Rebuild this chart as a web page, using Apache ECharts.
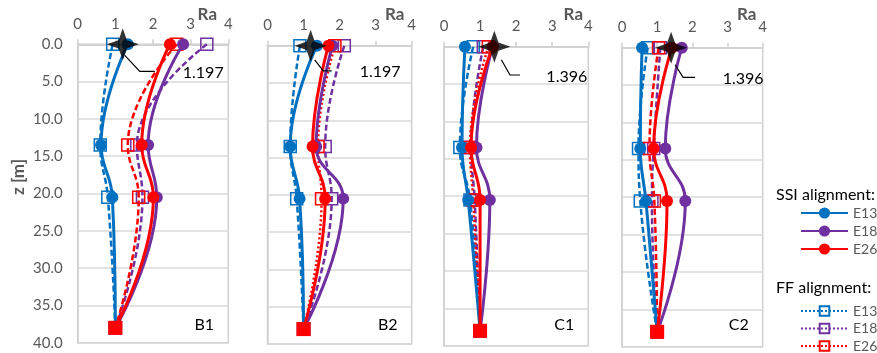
<!DOCTYPE html>
<html><head><meta charset="utf-8">
<script src="https://cdn.jsdelivr.net/npm/echarts@6/dist/echarts.min.js"></script>
<style>html,body{margin:0;padding:0;background:#fff}#c{width:877px;height:353px}</style>
</head><body><div id="c"></div>
<script>
// ---- data ----
const depths = [0, 13.5, 20.5, 38];
const panels = ['B1', 'B2', 'C1', 'C2'];
const xTicks = [0, 1, 2, 3, 4];
const yTicks = [0, 5, 10, 15, 20, 25, 30, 35, 40];
// values per panel (B1, B2, C1, C2), at the depths above
const ssiE13 = [[1.33, 0.62, 0.92, 1.0], [1.37, 0.63, 0.89, 1.0], [0.58, 0.50, 0.67, 1.0], [0.57, 0.52, 0.68, 1.0]];
const ssiE18 = [[2.80, 1.87, 2.10, 1.0], [1.80, 1.35, 2.10, 1.0], [1.35, 0.90, 1.27, 1.0], [1.70, 1.23, 1.80, 1.0]];
const ssiE26 = [[2.45, 1.70, 2.01, 1.0], [1.69, 1.25, 1.60, 1.0], [1.35, 0.75, 1.00, 1.0], [1.42, 0.90, 1.28, 1.0]];
const ffE13 = [[0.93, 0.60, 0.80, 1.0], [0.90, 0.63, 0.81, 1.0], [0.81, 0.44, 0.72, 1.0], [0.73, 0.47, 0.52, 1.0]];
const ffE18 = [[3.43, 1.57, 1.72, 1.0], [2.13, 1.60, 1.78, 1.0], [1.09, 0.75, 0.85, 1.0], [1.09, 0.90, 0.85, 1.0]];
const ffE26 = [[2.63, 1.33, 1.62, 1.0], [1.87, 1.40, 1.50, 1.0], [1.23, 0.72, 0.81, 1.0], [1.04, 0.78, 0.92, 1.0]];
const peakRa = [1.197, 1.197, 1.396, 1.396];
const peakDepth = [0, 0, 0, 0];
const peakLabels = ['1.197', '1.197', '1.396', '1.396'];

// ---- layout / style ----
const FONT = 'Lato, "Open Sans", sans-serif';
const GRAY = '#595959';
const gridBox = [
  {left: 77.7, top: 44.3, width: 150.6, height: 298.4},
  {left: 267.5, top: 45.8, width: 144.2, height: 298.2},
  {left: 444, top: 46.7, width: 144.3, height: 299},
  {left: 622, top: 47.7, width: 140.7, height: 299}
];
const ffRedDash = [[6, 3], [2, 2.5], [2, 2.5], [6, 3]];
const leader = [
  {pts: [[2, 11], [17, 27], [32, 27]], tx: 60, ty: 28.5},
  {pts: [[4, 14], [12.6, 25], [21, 25]], tx: 49, ty: 26},
  {pts: [[7, 13], [15.6, 28.3], [25.6, 28.3]], tx: 52, ty: 30},
  {pts: [[4, 17], [12, 29.6], [24, 29.6]], tx: 51.6, ty: 31}
];
const raOff = [-21, -17, -15, -16];
const BLUE = '#0070C0', PURPLE = '#7030A0', RED = '#FF0000';

const defs = [
  {name: 'FF E13', vals: ffE13, color: BLUE, ff: true},
  {name: 'FF E18', vals: ffE18, color: PURPLE, ff: true},
  {name: 'FF E26', vals: ffE26, color: RED, ff: true},
  {name: 'SSI E13', vals: ssiE13, color: BLUE, ff: false},
  {name: 'SSI E18', vals: ssiE18, color: PURPLE, ff: false},
  {name: 'SSI E26', vals: ssiE26, color: RED, ff: false}
];

const grids = [], xAxes = [], yAxes = [], series = [];
panels.forEach((pn, p) => {
  const g = gridBox[p];
  grids.push({left: g.left, top: g.top, width: g.width, height: g.height, show: true,
    borderColor: '#d0d0d0', borderWidth: 1.5, backgroundColor: 'transparent'});
  xAxes.push({gridIndex: p, type: 'value', position: 'top', min: xTicks[0], max: xTicks[xTicks.length - 1], interval: 1,
    axisLine: {show: true, onZero: false, lineStyle: {color: '#d0d0d0', width: 1.5}},
    axisTick: {show: true, length: 5, lineStyle: {color: '#d0d0d0', width: 1.5}},
    axisLabel: {color: GRAY, fontSize: 15, fontFamily: FONT, margin: 13},
    splitLine: {show: false}});
  yAxes.push({gridIndex: p, type: 'value', inverse: true, min: yTicks[0], max: yTicks[yTicks.length - 1], interval: 5,
    axisLine: {show: true, onZero: false, lineStyle: {color: '#d0d0d0', width: 1.5}},
    axisTick: {show: false},
    axisLabel: {show: p === 0, color: GRAY, fontSize: 15, fontFamily: FONT, margin: 15,
      formatter: v => v.toFixed(1)},
    splitLine: {show: true, lineStyle: {color: '#d9d9d9', width: 1.5}}});
  defs.forEach(d => {
    const dash = d.ff ? (d.color === RED ? ffRedDash[p] : [6, 3]) : 'solid';
    const isLastRed = !d.ff && d.color === RED;
    series.push({
      name: d.name, type: 'line', xAxisIndex: p, yAxisIndex: p,
      data: depths.map((z, k) => {
        const item = {value: [d.vals[p][k], z]};
        if (isLastRed && k === depths.length - 1) { item.symbol = 'rect'; item.symbolSize = 14; }
        return item;
      }),
      smooth: 0.45, symbol: d.ff ? 'rect' : 'circle', symbolSize: 12,
      lineStyle: {color: d.color, width: d.ff ? 2.5 : 3, type: dash},
      itemStyle: d.ff ? {color: 'rgba(255,255,255,0)', borderColor: d.color, borderWidth: 1.5}
                     : {color: d.color, borderWidth: 0},
      emphasis: {disabled: true}, z: d.ff ? 3 : 4
    });
  });
  series.push({
    name: 'peak', type: 'scatter', xAxisIndex: p, yAxisIndex: p,
    data: [[peakRa[p], peakDepth[p]]],
    symbol: 'path://M0,-10 L2.6,-2.6 L10,0 L2.6,2.6 L0,10 L-2.6,2.6 L-10,0 L-2.6,-2.6 Z',
    symbolSize: [32, 32], itemStyle: {color: '#000'}, z: 6, emphasis: {disabled: true}
  });
});

const chart = echarts.init(document.getElementById('c'), null, {renderer: 'canvas'});
chart.setOption({
  animation: false,
  grid: grids, xAxis: xAxes, yAxis: yAxes, series: series,
  legend: [
    {orient: 'vertical', left: 800, top: 206, height: 80, padding: 0, itemWidth: 47, itemHeight: 14, itemGap: 4,
      selectedMode: false, textStyle: {color: GRAY, fontSize: 14, fontFamily: FONT, lineHeight: 14},
      formatter: n => n.split(' ')[1],
      data: ['SSI E13', 'SSI E18', 'SSI E26']},
    {orient: 'vertical', left: 800, top: 304, height: 80, padding: 0, itemWidth: 47, itemHeight: 12, itemGap: 3.5,
      selectedMode: false, textStyle: {color: GRAY, fontSize: 14, fontFamily: FONT, lineHeight: 12},
      formatter: n => n.split(' ')[1],
      data: ['FF E13', 'FF E18', 'FF E26'].map(n => ({name: n, lineStyle: {type: [2, 2]}}))}
  ]
});

// annotations derived from the axes
const graphics = [];
panels.forEach((pn, p) => {
  const g = gridBox[p];
  const c = chart.convertToPixel({gridIndex: p}, [peakRa[p], peakDepth[p]]);
  const L = leader[p];
  graphics.push({type: 'polyline', shape: {points: L.pts.map(q => [c[0] + q[0], c[1] + q[1]])},
    style: {stroke: '#000', lineWidth: 1.2, fill: null}, z: 20});
  graphics.push({type: 'text', x: c[0] + L.tx, y: c[1] + L.ty,
    style: {text: peakLabels[p], fill: '#000', font: '16px ' + FONT, textAlign: 'left', textVerticalAlign: 'middle'}, z: 20});
  graphics.push({type: 'text', x: g.left + g.width - 24, y: 325,
    style: {text: pn, fill: '#000', font: '16px ' + FONT, textAlign: 'center', textVerticalAlign: 'middle'}, z: 20});
  graphics.push({type: 'text', x: g.left + g.width + raOff[p], y: 15,
    style: {text: 'Ra', fill: GRAY, font: 'bold 17px ' + FONT, textAlign: 'center', textVerticalAlign: 'middle'}, z: 20});
});
graphics.push({type: 'text', x: 19, y: 177, rotation: Math.PI / 2,
  style: {text: 'z [m]', fill: GRAY, font: 'bold 17px ' + FONT, textAlign: 'center', textVerticalAlign: 'middle'}});
graphics.push({type: 'text', x: 776, y: 195,
  style: {text: 'SSI alignment:', fill: '#000', font: '16px ' + FONT, textAlign: 'left', textVerticalAlign: 'middle'}});
graphics.push({type: 'text', x: 776, y: 288,
  style: {text: 'FF alignment:', fill: '#000', font: '16px ' + FONT, textAlign: 'left', textVerticalAlign: 'middle'}});
chart.setOption({graphic: graphics});
</script></body></html>
